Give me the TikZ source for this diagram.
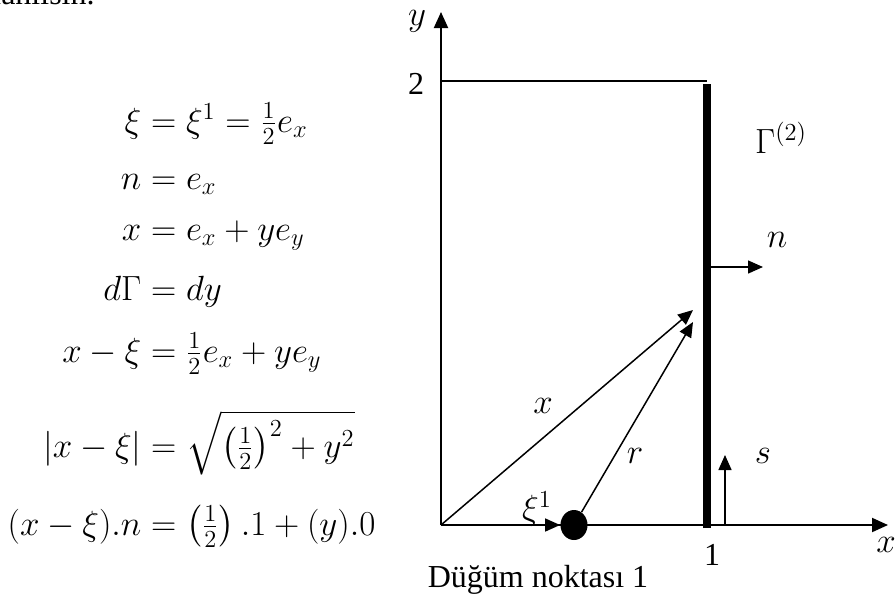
\RequirePackage{fix-cm}
\documentclass[tikz,border=0pt]{standalone}
\usepackage{amsmath,amssymb}
\usepackage{mathtools}
\usepackage{fontspec}
\setmainfont{Liberation Serif}
\usetikzlibrary{arrows.meta,calc,positioning,shapes.geometric}

\begin{document}
\begin{tikzpicture}[x=0.5pt,y=-0.5pt,font=\fontsize{16}{19}\selectfont,
    vec/.style={-{Triangle[length=7.5pt,width=6.5pt]},line width=0.75pt},
    axis/.style={-{Triangle[length=8pt,width=7pt]},line width=1pt},
    mlab/.style={font=\fontsize{17.5}{21}\selectfont},
    eq/.style={mlab,inner sep=0pt,anchor=base west}]
        \useasboundingbox (0,0) rectangle (895,601);
        \def\wall{707}
        \def\top{81}
        \coordinate (O) at (441,525);
        \coordinate (ytip) at (441,12);
        \coordinate (xtip) at (888,525);
        \coordinate (c2) at (\wall,\top);
        \coordinate (y2) at (441,\top);
        \coordinate (w1) at (\wall,528);
        \coordinate (w2) at (\wall,84);
        \coordinate (xv) at (693,310);
        \coordinate (rv) at (693,322);
        \coordinate (n1) at (\wall,267);
        \coordinate (n2) at (763,267);
        \coordinate (s1) at (725,525);
        \coordinate (s2) at (725,455);
        %Text from the page
        \node[anchor=base east,inner sep=0pt] (prev) at (95,4) {kullanılsın.};
        %Equations
        \node[eq] (e1) at (141,132) {$\mathllap{\xi}=\xi^1=\frac{1}{2}e_x$};
        \node[eq] (e2) at (141,189) {$\mathllap{n}=e_x$};
        \node[eq] (e3) at (141,240) {$\mathllap{x}=e_x+ye_y$};
        \node[eq] (e4) at (141,300) {$\mathllap{d\Gamma}=dy$};
        \node[eq] (e5) at (141,362) {$\mathllap{x-\xi}=\frac{1}{2}e_x+ye_y$};
        \node[eq] (e6) at (141,457) {$\mathllap{|x-\xi|}=\sqrt{\left(\frac{1}{2}\right)^2+y^2}$};
        \node[eq] (e7) at (141,535) {$\mathllap{(x-\xi).n}=\left(\frac{1}{2}\right).1+(y).0$};
        %Axis
        \draw[axis] (O) -- (ytip);
        \draw[axis] (O) -- (xtip);
        \node[mlab,inner sep=0pt] (ylab) at (417,21) {$y$};
        \node[mlab] (xlab) at (886,545) {$x$};
        \node (two) at (416,84) {2};
        \node (one) at (712,555) {1};
        %Boundary
        \draw[line width=1pt] (y2) -- (c2);
        \draw[line width=4pt] (w1) -- (w2);
        \node[mlab] (gam) at (781,138) {$\Gamma^{(2)}$};
        %Vectors
        \node[ellipse,fill=black,inner sep=0pt,minimum width=13.5pt,minimum height=15pt] (dot) at (574,525) {};
        \draw[vec] (O) -- (dot);
        \draw[vec] (O) -- (xv);
        \draw[vec] (dot) -- (rv);
        \draw[vec] (n1) -- (n2);
        \draw[vec] (s1) -- (s2);
        \node[mlab] (xi) at (537,509) {$\xi^1$};
        \node[mlab] (xl) at (543,406) {$x$};
        \node[mlab] (rl) at (635,456) {$r$};
        \node[mlab] (nl) at (777,240) {$n$};
        \node[mlab] (sl) at (763,456) {$s$};
        \node (dug) at (538,580) {Düğüm noktası 1};
      \end{tikzpicture}
\end{document}
